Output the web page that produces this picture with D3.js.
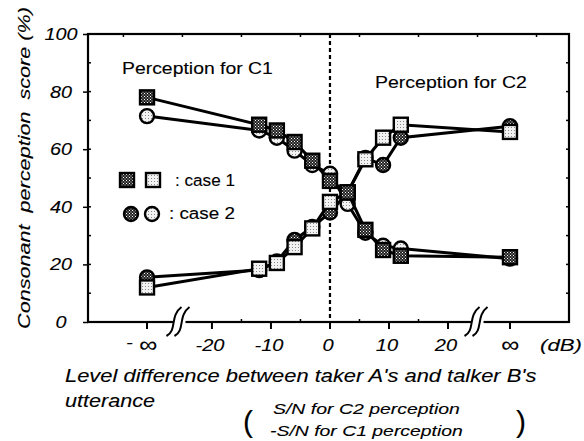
<!DOCTYPE html>
<html>
<head>
<meta charset="utf-8">
<script src="https://cdn.jsdelivr.net/npm/d3@7"></script>
<style>
body { margin: 0; background: #fff; }
text { font-family: "Liberation Sans", Arial, sans-serif; fill: #000; stroke: #000; stroke-width: 0.12px; }
.it { font-style: italic; }
</style>
</head>
<body>
<div id="chart-area"></div>
<script>
// level difference (dB); -Infinity / Infinity sit beyond the axis breaks
var levels = [-Infinity, -12, -9, -6, -3, 0, 3, 6, 9, 12, Infinity];

// consonant perception score (%)
var case1C1 = [78, 68.5, 66.5, 62.5, 56, 49, 45, 32, 25, 23, 22.5];
var case1C2 = [12, 18.5, 20.5, 26, 32.5, 41.7, 45, 56.5, 64, 68.5, 66];
var case2C1 = [71.5, 66.5, 64, 59.5, 54.5, 51.5, 41, 31, 26.5, 25.5, 22];
var case2C2 = [15.5, 18, 21, 28.5, 33, 38, 45, 57, 54.5, 64, 68];

var yTicks = [0, 20, 40, 60, 80, 100];
var xTicks = [-20, -10, 0, 10, 20];

var width = 584, height = 441;
var margin = {top: 34, right: 15, bottom: 119, left: 88};

var svg = d3.select("#chart-area").append("svg")
    .attr("width", width)
    .attr("height", height);

var defs = svg.append("defs");

// dark hatched fill
var pd = defs.append("pattern").attr("id", "dark")
    .attr("width", 3).attr("height", 3).attr("patternUnits", "userSpaceOnUse");
pd.append("rect").attr("width", 3).attr("height", 3).attr("fill", "#222");
pd.append("rect").attr("x", 0).attr("y", 0).attr("width", 1).attr("height", 1).attr("fill", "#fff");
pd.append("rect").attr("x", 1.5).attr("y", 1.5).attr("width", 1).attr("height", 1).attr("fill", "#ddd");

// light stippled fill
var pl = defs.append("pattern").attr("id", "light")
    .attr("width", 3).attr("height", 3).attr("patternUnits", "userSpaceOnUse");
pl.append("rect").attr("width", 3).attr("height", 3).attr("fill", "#f2f2f2");
pl.append("rect").attr("x", 1).attr("y", 1).attr("width", 1).attr("height", 1).attr("fill", "#888");

var x = d3.scaleLinear()
    .domain([-41, 40.5])
    .range([margin.left, width - margin.right]);

var y = d3.scaleLinear()
    .domain([0, 100])
    .range([height - margin.bottom, margin.top]);

function xPos(v) {
  if (v === -Infinity) return x(-31);
  if (v === Infinity) return x(30.5);
  return x(v);
}

// text in the scan is wider than Arial: stretch horizontally
// len > 10 means a target width in px, otherwise a stretch factor
function label(txt, px, py, size, len, opt) {
  opt = opt || {};
  var t = svg.append("text")
      .attr("font-size", size)
      .attr("text-anchor", opt.anchor || "start")
      .attr("xml:space", "preserve")
      .text(txt);
  if (opt.italic !== false) t.attr("class", "it");
  var w = t.node().getComputedTextLength();
  var k = len > 10 ? len / w : len;
  t.attr("transform", "translate(" + px + "," + py + ")" + (opt.rotate ? " rotate(" + opt.rotate + ")" : "") + " scale(" + k + ",1)");
  return t;
}

var x0 = x.range()[0], x1 = x.range()[1];
var y0 = y.range()[0], y1 = y.range()[1];

// frame
svg.append("rect")
    .attr("x", x0).attr("y", y1)
    .attr("width", x1 - x0).attr("height", y0 - y1)
    .attr("fill", "none").attr("stroke", "#000").attr("stroke-width", 2.2);

// left axis
var leftaxis = d3.axisLeft(y).tickValues(yTicks).tickSize(5).tickFormat("");
var gl = svg.append("g").attr("transform", "translate(" + x0 + ",0)").call(leftaxis);
gl.select(".domain").remove();
gl.selectAll("line").attr("stroke-width", 1.5);

yTicks.forEach(function(d){
  label(String(d), 61, y(d) + 6, 16.5, 1.2, {anchor: "middle"});
});

// minor ticks (inside)
var minorY = d3.range(10, 100, 10);
svg.selectAll(".myl").data(minorY).enter().append("line")
    .attr("x1", x0).attr("x2", x0 + 3)
    .attr("y1", function(d){ return y(d); }).attr("y2", function(d){ return y(d); })
    .attr("stroke", "#000").attr("stroke-width", 1.5);
svg.selectAll(".myr").data(minorY).enter().append("line")
    .attr("x1", x1).attr("x2", x1 - 3)
    .attr("y1", function(d){ return y(d); }).attr("y2", function(d){ return y(d); })
    .attr("stroke", "#000").attr("stroke-width", 1.5);

// bottom axis
var xTickAll = xTicks.concat([-Infinity, Infinity]);
svg.selectAll(".xt").data(xTickAll).enter().append("line")
    .attr("x1", function(d){ return xPos(d); }).attr("x2", function(d){ return xPos(d); })
    .attr("y1", y0).attr("y2", y0 + 7)
    .attr("stroke", "#000").attr("stroke-width", 2);

var minorX = [-15, -5, 5, 15];
svg.selectAll(".mx").data(minorX).enter().append("line")
    .attr("x1", function(d){ return x(d); }).attr("x2", function(d){ return x(d); })
    .attr("y1", y0).attr("y2", y0 - 3)
    .attr("stroke", "#000").attr("stroke-width", 1.5);
svg.selectAll(".mxt").data(d3.range(-35, 40, 10)).enter().append("line")
    .attr("x1", function(d){ return x(d); }).attr("x2", function(d){ return x(d); })
    .attr("y1", y1).attr("y2", y1 + 3)
    .attr("stroke", "#000").attr("stroke-width", 1.5);

xTicks.forEach(function(d){
  label(String(d), x(d) - 2, y0 + 29, 17, 1.18, {anchor: "middle"});
});
label("-", xPos(-Infinity) - 21, y0 + 26, 17, 1.2);
label("\u221E", xPos(-Infinity) + 1, y0 + 30, 22, 1.15, {anchor: "middle"});
label("\u221E", xPos(Infinity), y0 + 30, 22, 1.15, {anchor: "middle"});
label("(dB)", x1 - 29, y0 + 29, 17, 42);

// axis breaks
function brk(cx) {
  var gb = svg.append("g");
  gb.append("rect").attr("x", cx - 6).attr("y", y0 - 3).attr("width", 12).attr("height", 6).attr("fill", "#fff");
  [-4, 4].forEach(function(o){
    gb.append("path")
      .attr("d", "M" + (cx + o - 9) + "," + (y0 + 14) + " C" + (cx + o + 2) + "," + (y0 + 8) + " " + (cx + o - 6) + "," + (y0 - 6) + " " + (cx + o + 6) + "," + (y0 - 15))
      .attr("fill", "none").attr("stroke", "#000").attr("stroke-width", 2);
  });
}
brk(x(-25.5));
brk(x(25));

// dashed zero line
svg.append("line")
    .attr("x1", x(0)).attr("x2", x(0))
    .attr("y1", y1).attr("y2", y0)
    .attr("stroke", "#000").attr("stroke-width", 2.2)
    .attr("stroke-dasharray", "4,3");

// series
var line = d3.line()
    .x(function(d){ return xPos(d.x); })
    .y(function(d){ return y(d.y); });

function toPts(vals) {
  return vals.map(function(v, i){ return {x: levels[i], y: v}; });
}

function drawSeries(vals, shape, fill) {
  var pts = toPts(vals);
  svg.append("path").datum(pts)
      .attr("d", line)
      .attr("fill", "none").attr("stroke", "#000").attr("stroke-width", 3);
  var g = svg.append("g");
  if (shape === "square") {
    g.selectAll("rect").data(pts).enter().append("rect")
        .attr("x", function(d){ return xPos(d.x) - 7; })
        .attr("y", function(d){ return y(d.y) - 7; })
        .attr("width", 14).attr("height", 14)
        .attr("fill", "url(#" + fill + ")")
        .attr("stroke", "#000").attr("stroke-width", 2.4);
  } else {
    g.selectAll("circle").data(pts).enter().append("circle")
        .attr("cx", function(d){ return xPos(d.x); })
        .attr("cy", function(d){ return y(d.y); })
        .attr("r", 7)
        .attr("fill", "url(#" + fill + ")")
        .attr("stroke", "#000").attr("stroke-width", 2.4);
  }
}

drawSeries(case2C1, "circle", "light");
drawSeries(case2C2, "circle", "dark");
drawSeries(case1C2, "square", "light");
drawSeries(case1C1, "square", "dark");

// annotations
label("Perception for C1", 122, 74, 16.5, 151, {italic: false});
label("Perception for C2", 375, 88, 16.5, 152, {italic: false});

// legend
var leg = svg.append("g");
leg.append("rect").attr("x", 120).attr("y", 173).attr("width", 14).attr("height", 14)
    .attr("fill", "url(#dark)").attr("stroke", "#000").attr("stroke-width", 2.4);
leg.append("rect").attr("x", 146).attr("y", 173).attr("width", 14).attr("height", 14)
    .attr("fill", "url(#light)").attr("stroke", "#000").attr("stroke-width", 2.4);
leg.append("circle").attr("cx", 131).attr("cy", 214).attr("r", 7)
    .attr("fill", "url(#dark)").attr("stroke", "#000").attr("stroke-width", 2.4);
leg.append("circle").attr("cx", 152).attr("cy", 214).attr("r", 7)
    .attr("fill", "url(#light)").attr("stroke", "#000").attr("stroke-width", 2.4);
label(": case 1", 175, 186, 16.5, 60, {italic: false});
label(": case 2", 169, 219, 16.5, 66, {italic: false});

// axis titles
label("Consonant  perception  score (%)", 30, 168, 17, 322, {anchor: "middle", rotate: -90});
label("Level difference between taker A's and talker B's", 65, 382, 18.5, 472);
label("utterance", 65, 407, 18.5, 90);

label("(", 243, 432, 30, 1, {italic: false});
label(")", 516, 432, 30, 1, {italic: false});
label("S/N for C2 perception", 273, 414, 15.5, 187);
label("-S/N for C1 perception", 270, 436, 15.5, 193);
</script>
</body>
</html>
